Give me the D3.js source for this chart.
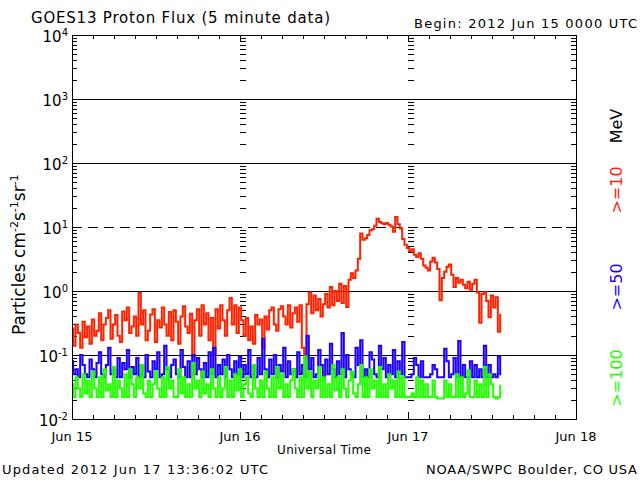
<!DOCTYPE html>
<html>
<head>
<meta charset="utf-8">
<script src="https://cdn.jsdelivr.net/npm/d3@7"></script>
<style>
  html, body { margin: 0; padding: 0; background: #fff; }
  text { font-family: "DejaVu Sans", sans-serif; }
</style>
</head>
<body>
<div id="chart"></div>
<script>
// 20-minute samples starting 2012 Jun 15 00:00 UTC (3 per hour)
const startTime = Date.UTC(2012, 5, 15, 0, 0);
const stepMinutes = 20;

const p10 = [
  0.26, 0.14, 0.30,  0.22, 0.13, 0.33,  0.19, 0.28, 0.15,  0.36, 0.20, 0.24,
  0.45, 0.17, 0.30,  0.38, 0.50, 0.18,  0.30, 0.42, 0.20,  0.16, 0.48, 0.35,
  0.55, 0.22, 0.28,  0.40, 0.20, 0.93,  0.30, 0.50, 0.17,  0.24, 0.43, 0.52,
  0.16, 0.35, 0.27,  0.55, 0.30, 0.20,  0.47, 0.17, 0.50,  0.33, 0.15, 0.40,
  0.58, 0.28, 0.22,  0.44, 0.095, 0.35, 0.52, 0.20, 0.60,  0.30, 0.45, 0.17,
  0.38, 0.10, 0.52,  0.26, 0.60, 0.35,  0.20, 0.50, 0.78,  0.30, 0.60, 0.22,
  // Jun 16
  0.55, 0.35, 0.20,  0.38, 0.17, 0.28,  0.15, 0.42, 0.30,  0.36, 0.13, 0.40,
  0.25, 0.50, 0.55,  0.30, 0.24, 0.52,  0.58, 0.40, 0.30,  0.60, 0.27, 0.45,
  0.55, 0.33, 0.60,  0.13, 0.09, 0.62,  0.95, 0.45, 0.85,  0.50, 0.75, 0.40,
  0.62, 0.90, 0.55,  1.15, 0.60, 1.00,  0.70, 1.30, 0.65,  1.20, 0.56, 1.50,
  1.90, 1.60, 2.10,  3.20, 7.90, 6.30,  6.70, 7.50, 8.90,  9.20, 10.5, 13.5,
  12.0, 11.4, 11.0,  11.6, 10.8, 10.2,  8.40, 14.3, 11.0,  9.50, 6.50, 5.30,
  // Jun 17
  4.70, 4.20, 4.50,  3.70, 3.40, 3.90,  3.20, 2.50, 2.30,  2.10, 2.90, 3.30,
  2.80, 2.20, 0.72,  1.60, 2.00, 2.40,  2.60, 1.80, 1.15,  1.60, 1.35, 1.50,
  1.25, 1.10, 1.40,  1.05, 1.30, 1.50,  0.95, 0.32, 0.90,  0.96, 0.70, 0.39,
  0.85, 0.55, 0.80,  0.23, 0.42
];

const p50 = [
  0.08, 0.05, 0.06,   0.045, 0.10, 0.07,   0.05, 0.045, 0.085, 0.06, 0.045, 0.075,
  0.11, 0.05, 0.045,  0.07, 0.13, 0.05,    0.06, 0.045, 0.09,  0.045, 0.075, 0.06,
  0.12, 0.045, 0.065, 0.05, 0.09, 0.045,   0.07, 0.045, 0.10,  0.055, 0.045, 0.08,
  0.06, 0.11, 0.045,  0.05, 0.14, 0.06,    0.045, 0.07, 0.085, 0.05, 0.045, 0.12,
  0.065, 0.045, 0.08, 0.045, 0.10, 0.05,   0.09, 0.06, 0.045,  0.075, 0.045, 0.11,
  0.05, 0.13, 0.045,  0.07, 0.05, 0.085,   0.045, 0.10, 0.06,  0.045, 0.08, 0.05,
  // Jun 16
  0.095, 0.045, 0.07, 0.05, 0.12, 0.045,   0.065, 0.045, 0.09, 0.05, 0.18, 0.06,
  0.045, 0.085, 0.05, 0.10, 0.045, 0.07,   0.055, 0.13, 0.045, 0.08, 0.05, 0.06,
  0.045, 0.11, 0.05,  0.07, 0.045, 0.20,   0.06, 0.09, 0.045,  0.05, 0.12, 0.07,
  0.045, 0.085, 0.05, 0.15, 0.06, 0.045,   0.08, 0.05, 0.22,   0.045, 0.10, 0.06,
  0.05, 0.045, 0.13,  0.07, 0.17, 0.045,   0.06, 0.045, 0.11,  0.085, 0.05, 0.045,
  0.14, 0.06, 0.09,   0.045, 0.07, 0.05,   0.12, 0.045, 0.08,  0.05, 0.16, 0.045,
  // Jun 17
  0.045, 0.045, 0.05, 0.09, 0.07, 0.045,   0.08, 0.045, 0.045, 0.045, 0.05, 0.07,
  0.06, 0.045, 0.045, 0.045, 0.125, 0.08,  0.045, 0.05, 0.09,  0.045, 0.165, 0.045,
  0.07, 0.045, 0.045, 0.08, 0.045, 0.07,   0.045, 0.06, 0.045, 0.14, 0.045, 0.07,
  0.045, 0.05, 0.045, 0.095, 0.05
];

const p100 = [
  0.035, 0.022, 0.045, 0.03, 0.022, 0.05,  0.025, 0.04, 0.022, 0.055, 0.03, 0.022,
  0.045, 0.022, 0.06,  0.028, 0.035, 0.022, 0.065, 0.022, 0.04, 0.03, 0.022, 0.05,
  0.022, 0.06, 0.035,  0.022, 0.045, 0.03,  0.07, 0.025, 0.022, 0.04, 0.022, 0.035,
  0.055, 0.03, 0.022,  0.045, 0.022, 0.065, 0.03, 0.04, 0.022,  0.022, 0.06, 0.025,
  0.045, 0.022, 0.035, 0.022, 0.075, 0.03,  0.04, 0.022, 0.055, 0.025, 0.035, 0.022,
  0.06, 0.03, 0.022,   0.045, 0.022, 0.03,  0.065, 0.022, 0.04, 0.022, 0.05, 0.028,
  // Jun 16
  0.06, 0.022, 0.035,  0.045, 0.025, 0.022, 0.07, 0.03, 0.022,  0.04, 0.022, 0.055,
  0.03, 0.022, 0.045,  0.022, 0.065, 0.03,  0.05, 0.022, 0.035, 0.022, 0.04, 0.06,
  0.03, 0.022, 0.045,  0.022, 0.095, 0.03,  0.055, 0.022, 0.04, 0.03, 0.065, 0.022,
  0.045, 0.022, 0.035, 0.022, 0.07, 0.028,  0.045, 0.022, 0.06, 0.03, 0.022, 0.04,
  0.055, 0.025, 0.022, 0.035, 0.07, 0.022,  0.045, 0.022, 0.06, 0.03, 0.04, 0.022,
  0.065, 0.022, 0.035, 0.022, 0.05, 0.03,   0.04, 0.022, 0.055, 0.022, 0.045, 0.022,
  // Jun 17
  0.022, 0.022, 0.025, 0.022, 0.045, 0.022, 0.04, 0.022, 0.035, 0.022, 0.022, 0.04,
  0.022, 0.021, 0.021, 0.021, 0.04, 0.022,  0.035, 0.022, 0.022, 0.05, 0.022, 0.045,
  0.022, 0.025, 0.058, 0.022, 0.022, 0.04,  0.022, 0.035, 0.022, 0.065, 0.022, 0.05,
  0.035, 0.022, 0.021, 0.022, 0.033
];

const seriesNames = [">=10", ">=50", ">=100"];
const seriesColors = ["#ff2200", "#1e00ff", "#22ff00"];
const decades = [1e-2, 1e-1, 1e0, 1e1, 1e2, 1e3, 1e4];
const decadeExp = ["-2", "-1", "0", "1", "2", "3", "4"];
const dayTicks = [Date.UTC(2012, 5, 15), Date.UTC(2012, 5, 16), Date.UTC(2012, 5, 17), Date.UTC(2012, 5, 18)];
const dayLabels = ["Jun 15", "Jun 16", "Jun 17", "Jun 18"];

const W = 640, H = 480;
const svg = d3.select('#chart').append('svg')
  .attr('width', W).attr('height', H)
  .style('display', 'block');

svg.append('rect').attr('width', W).attr('height', H).attr('fill', '#fff');

const x = d3.scaleUtc().domain([dayTicks[0], dayTicks[3]]).range([72, 576]);
const y = d3.scaleLog().domain([1e-2, 1e4]).range([419, 35]);

const g = svg.append('g').attr('shape-rendering', 'crispEdges');

// decade grid lines (10^1 dashed)
decades.slice(1, -1).forEach(v => {
  g.append('line')
    .attr('x1', 72).attr('x2', 576)
    .attr('y1', Math.round(y(v)) + 0.5).attr('y2', Math.round(y(v)) + 0.5)
    .attr('stroke', '#000').attr('stroke-width', 1)
    .attr('stroke-dasharray', v === 10 ? '10,6' : null);
});

// minor log ticks on both axes and on the day boundaries
const minors = [];
decades.slice(0, -1).forEach(d => { for (let k = 2; k <= 9; k++) minors.push(k * d); });
minors.forEach(v => {
  const yy = Math.round(y(v)) + 0.5;
  g.append('line').attr('x1', 72).attr('x2', 77).attr('y1', yy).attr('y2', yy).attr('stroke', '#000');
  g.append('line').attr('x1', 571).attr('x2', 576).attr('y1', yy).attr('y2', yy).attr('stroke', '#000');
  [dayTicks[1], dayTicks[2]].forEach(t => {
    const xx = Math.round(x(t));
    g.append('line').attr('x1', xx).attr('x2', xx + 6).attr('y1', yy).attr('y2', yy).attr('stroke', '#000');
  });
});
decades.forEach(v => {
  const yy = Math.round(y(v)) + 0.5;
  g.append('line').attr('x1', 72).attr('x2', 82).attr('y1', yy).attr('y2', yy).attr('stroke', '#000');
  g.append('line').attr('x1', 566).attr('x2', 576).attr('y1', yy).attr('y2', yy).attr('stroke', '#000');
});

// 3-hour ticks on top and bottom
x.ticks(d3.utcHour.every(3)).forEach(t => {
  const xx = Math.round(x(t)) + 0.5;
  const len = t.getUTCHours() === 0 ? 7 : 4;
  g.append('line').attr('x1', xx).attr('x2', xx).attr('y1', 35).attr('y2', 35 + len).attr('stroke', '#000');
  g.append('line').attr('x1', xx).attr('x2', xx).attr('y1', 419 - len).attr('y2', 419).attr('stroke', '#000');
});

// data (stepped, like the pixel-column look of the 5-minute plot)
const line = d3.line()
  .curve(d3.curveStep)
  .x((d, i) => x(startTime + i * stepMinutes * 60000))
  .y(d => y(d));

const plot = svg.append('g');
[p10, p50, p100].forEach((s, k) => {
  plot.append('path')
    .datum(s)
    .attr('d', line)
    .attr('fill', 'none')
    .attr('stroke', seriesColors[k])
    .attr('stroke-width', 2)
    .attr('stroke-linejoin', 'miter');
});

// frame
svg.append('rect')
  .attr('x', 72.5).attr('y', 35.5).attr('width', 504).attr('height', 384)
  .attr('fill', 'none').attr('stroke', '#000').attr('stroke-width', 1)
  .attr('shape-rendering', 'crispEdges');

// y tick labels
decades.forEach((v, i) => {
  const t = svg.append('text')
    .attr('x', 68).attr('y', y(v) + 7)
    .attr('text-anchor', 'end')
    .attr('font-size', 15)
    .attr('fill', '#000');
  t.append('tspan').text('10');
  t.append('tspan').attr('dy', -6).attr('font-size', 10).text(decadeExp[i]);
});

// x tick labels
dayTicks.forEach((t, i) => {
  svg.append('text')
    .attr('x', x(t)).attr('y', 441)
    .attr('text-anchor', 'middle')
    .attr('font-size', 13)
    .text(dayLabels[i]);
});

svg.append('text')
  .attr('x', 277).attr('y', 454)
  .attr('font-size', 12)
  .attr('textLength', 94).attr('lengthAdjust', 'spacing')
  .text('Universal Time');

svg.append('text')
  .attr('x', 31).attr('y', 23)
  .attr('font-size', 15)
  .attr('textLength', 299).attr('lengthAdjust', 'spacing')
  .text('GOES13 Proton Flux (5 minute data)');

svg.append('text')
  .attr('x', 414).attr('y', 28)
  .attr('font-size', 13)
  .attr('textLength', 223).attr('lengthAdjust', 'spacing')
  .text('Begin: 2012 Jun 15 0000 UTC');

svg.append('text')
  .attr('x', 2).attr('y', 474)
  .attr('font-size', 13)
  .attr('textLength', 266).attr('lengthAdjust', 'spacing')
  .text('Updated 2012 Jun 17 13:36:02 UTC');

svg.append('text')
  .attr('x', 426).attr('y', 474)
  .attr('font-size', 13)
  .attr('textLength', 211).attr('lengthAdjust', 'spacing')
  .text('NOAA/SWPC Boulder, CO USA');

// y axis title
const yt = svg.append('text')
  .attr('transform', 'translate(25,335) rotate(-90)')
  .attr('font-size', 17);
yt.append('tspan').text('Particles cm');
yt.append('tspan').attr('dy', -7).attr('font-size', 11).text('-2');
yt.append('tspan').attr('dy', 7).text('s');
yt.append('tspan').attr('dy', -7).attr('font-size', 11).text('-1');
yt.append('tspan').attr('dy', 7).text('sr');
yt.append('tspan').attr('dy', -7).attr('font-size', 11).text('-1');

// energy labels on the right
const rightLabels = [
  { text: 'MeV', color: '#000', cy: 126 },
  { text: seriesNames[0], color: seriesColors[0], cy: 190 },
  { text: seriesNames[1], color: seriesColors[1], cy: 287 },
  { text: seriesNames[2], color: seriesColors[2], cy: 378 }
];
rightLabels.forEach(l => {
  svg.append('text')
    .attr('transform', `translate(622,${l.cy}) rotate(-90)`)
    .attr('text-anchor', 'middle')
    .attr('font-size', 16)
    .attr('fill', l.color)
    .text(l.text);
});
</script>
</body>
</html>
